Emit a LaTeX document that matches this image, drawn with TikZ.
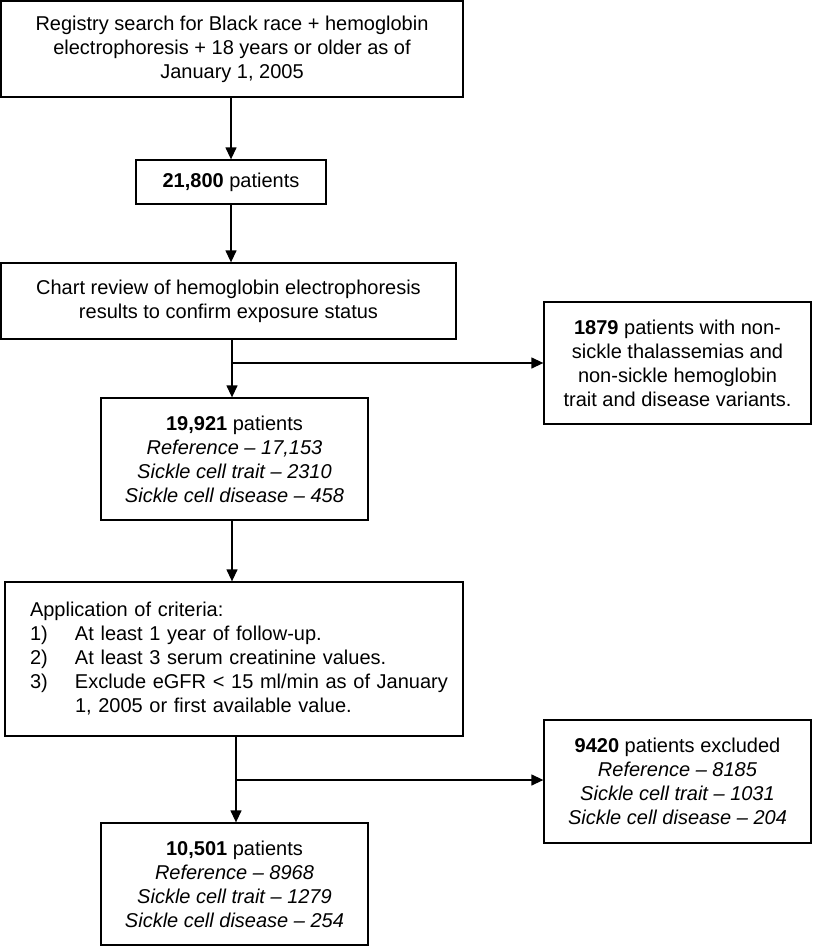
\documentclass[tikz,border=0pt]{standalone}
\usepackage{fontspec}
\setmainfont{Liberation Sans}
\usetikzlibrary{arrows.meta}
\begin{document}
\begin{tikzpicture}[x=1pt,y=-1pt,
  box/.style={draw,line width=1.3pt,rectangle,inner sep=0pt,align=center,
    font=\fontsize{20}{24}\selectfont},
  arr/.style={line width=1.3pt,-{Triangle[length=12pt,width=11pt]}},
  ln/.style={line width=1.3pt}]
\useasboundingbox (0,0) rectangle (812,947);

\node[box,minimum width=462pt,minimum height=96pt] (reg) at (232,49)
  {Registry search for Black race + hemoglobin\\electrophoresis + 18 years or older as of\\January 1, 2005};
\node[box,minimum width=190pt,minimum height=44pt] (pat) at (231,182)
  {\textbf{21,800} patients};
\node[box,minimum width=455pt,minimum height=76pt] (chart) at (228.5,301)
  {Chart review of hemoglobin electrophoresis\\results to confirm exposure status};
\node[box,minimum width=267pt,minimum height=122pt] (thal) at (677.5,363)
  {\textbf{1879} patients with non-\\sickle thalassemias and\\non-sickle hemoglobin\\trait and disease variants.};
\node[box,minimum width=267pt,minimum height=122pt] (conf) at (234.5,459)
  {\textbf{19,921} patients\\\textit{Reference – 17,153}\\\textit{Sickle cell trait – 2310}\\\textit{Sickle cell disease – 458}};
\node[box,minimum width=458pt,minimum height=154pt,text width=408pt,align=left] (crit) at (234,659)
  {Application of criteria:\\
   \makebox[45pt][l]{1)}At least 1 year of follow-up.\\
   \makebox[45pt][l]{2)}At least 3 serum creatinine values.\\
   \mbox{\makebox[45pt][l]{3)}Exclude eGFR < 15 ml/min as of January}\\
   \hspace*{45pt}1, 2005 or first available value.};
\node[box,minimum width=267pt,minimum height=123pt] (excl) at (677.5,781.5)
  {\textbf{9420} patients excluded\\\textit{Reference – 8185}\\\textit{Sickle cell trait – 1031}\\\textit{Sickle cell disease – 204}};
\node[box,minimum width=267pt,minimum height=122pt] (final) at (234.5,884)
  {\textbf{10,501} patients\\\textit{Reference – 8968}\\\textit{Sickle cell trait – 1279}\\\textit{Sickle cell disease – 254}};

\draw[arr] (reg.south -| 231,0) -- (pat.north -| 231,0);
\draw[arr] (pat.south -| 231,0) -- (chart.north -| 231,0);
\draw[arr] (chart.south -| 232,0) -- (conf.north -| 232,0);
\coordinate (j1) at (232,363);
\draw[arr] (j1) -- (thal.west);
\draw[arr] (conf.south -| 232,0) -- (crit.north -| 232,0);
\draw[arr] (crit.south -| 236,0) -- (final.north -| 236,0);
\coordinate (j2) at (236,780);
\draw[arr] (j2) -- (j2 -| excl.west);
\end{tikzpicture}
\end{document}
